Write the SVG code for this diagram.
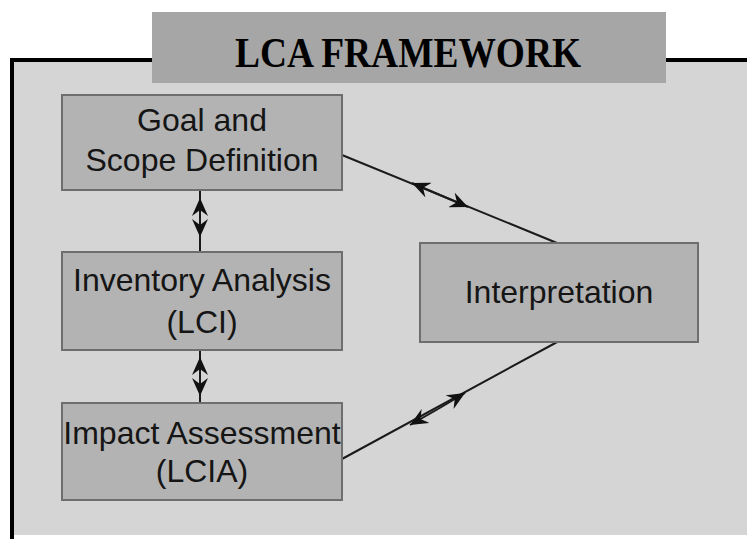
<svg xmlns="http://www.w3.org/2000/svg" width="747" height="539" viewBox="0 0 747 539">
<defs>
<style>
.box{fill:#b3b3b3;stroke:#6e6e6e;stroke-width:2}
.lbl{font-family:"Liberation Sans",Arial,sans-serif;font-size:32px;fill:#151515;text-anchor:middle}
.ln{stroke:#1a1a1a;stroke-width:2;fill:none}
</style>
<marker id="ah" viewBox="0 0 18 16" refX="18" refY="8" markerWidth="18" markerHeight="16" markerUnits="userSpaceOnUse" orient="auto">
<path d="M0,0 L18,8 L0,16 L6,8 z" fill="#111"/>
</marker>
</defs>
<rect x="0" y="0" width="747" height="539" fill="#ffffff"/>
<rect x="12" y="60" width="735" height="475" fill="#d5d5d5"/>
<path d="M12,539 L12,60 L747,60" fill="none" stroke="#000" stroke-width="4"/>
<g id="title">
<rect x="152" y="12" width="514" height="71" fill="#a6a6a6"/>
<text x="408" y="67" font-family="'Liberation Serif','Times New Roman',serif" font-weight="bold" font-size="42" text-anchor="middle" textLength="346" lengthAdjust="spacingAndGlyphs" fill="#000">LCA FRAMEWORK</text>
</g>
<g id="connectors">
<line class="ln" x1="200" y1="190" x2="200" y2="252"/>
<path class="ln" d="M200,220 L200,198" marker-end="url(#ah)"/>
<path class="ln" d="M200,220 L200,237" marker-end="url(#ah)"/>
<line class="ln" x1="200" y1="350" x2="200" y2="403"/>
<path class="ln" d="M200,376 L200,357" marker-end="url(#ah)"/>
<path class="ln" d="M200,376 L200,396" marker-end="url(#ah)"/>
<line class="ln" x1="342" y1="155" x2="557" y2="243"/>
<path class="ln" d="M440,195 L412,183" marker-end="url(#ah)"/>
<path class="ln" d="M440,195 L468,207" marker-end="url(#ah)"/>
<line class="ln" x1="342" y1="459" x2="559" y2="341"/>
<path class="ln" d="M438,409 L410,425" marker-end="url(#ah)"/>
<path class="ln" d="M438,409 L465,393" marker-end="url(#ah)"/>
</g>
<g id="goal">
<rect class="box" x="62" y="95" width="280" height="95"/>
<text class="lbl" x="202" y="131">Goal and</text>
<text class="lbl" x="202" y="171">Scope Definition</text>
</g>
<g id="inventory">
<rect class="box" x="62" y="252" width="280" height="98"/>
<text class="lbl" x="202" y="291">Inventory Analysis</text>
<text class="lbl" x="202" y="333">(LCI)</text>
</g>
<g id="impact">
<rect class="box" x="62" y="403" width="280" height="97"/>
<text class="lbl" x="202" y="444">Impact Assessment</text>
<text class="lbl" x="202" y="482">(LCIA)</text>
</g>
<g id="interpretation">
<rect class="box" x="420" y="243" width="278" height="99"/>
<text class="lbl" x="559" y="303">Interpretation</text>
</g>
</svg>
